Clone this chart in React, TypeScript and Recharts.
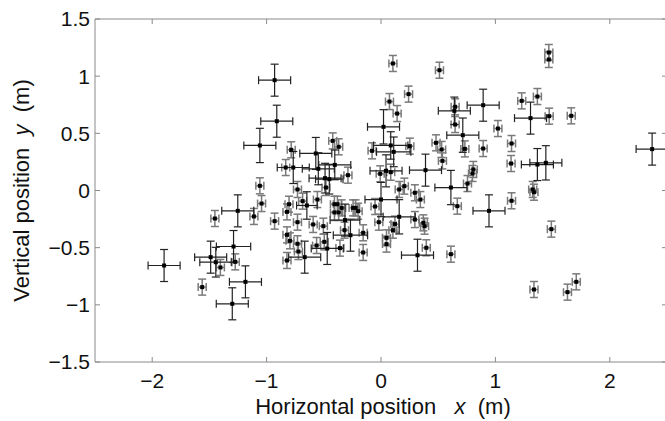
import React from "react";
import { ScatterChart, Scatter, XAxis, YAxis, ErrorBar, Label } from "recharts";

// [x, y, errX, errY] in metres
const preciseFixes: number[][] = [
  [-1.563, -0.845, 0.035, 0.07], [-1.452, -0.245, 0.035, 0.07], [-1.404, -0.673, 0.035, 0.07],
  [-1.274, -0.624, 0.035, 0.07], [-1.111, -0.227, 0.035, 0.07], [-1.059, 0.041, 0.035, 0.07],
  [-1.044, -0.114, 0.035, 0.07], [-0.93, -0.268, 0.035, 0.07], [-0.833, 0.201, 0.035, 0.07],
  [-0.822, -0.388, 0.035, 0.07], [-0.822, -0.187, 0.035, 0.07], [-0.822, -0.612, 0.035, 0.07],
  [-0.804, -0.12, 0.035, 0.07], [-0.796, -0.44, 0.035, 0.07], [-0.785, 0.356, 0.035, 0.07],
  [-0.73, 0.009, 0.035, 0.07], [-0.73, -0.277, 0.035, 0.07], [-0.73, -0.466, 0.035, 0.07],
  [-0.722, -0.534, 0.035, 0.07], [-0.685, -0.093, 0.035, 0.07], [-0.593, -0.297, 0.035, 0.07],
  [-0.556, -0.079, 0.035, 0.07], [-0.563, -0.481, 0.035, 0.07], [-0.504, -0.312, 0.035, 0.07],
  [-0.496, -0.449, 0.035, 0.07], [-0.481, 0.026, 0.035, 0.07], [-0.422, 0.434, 0.035, 0.07],
  [-0.407, -0.12, 0.035, 0.07], [-0.407, -0.192, 0.035, 0.07], [-0.381, -0.12, 0.035, 0.07],
  [-0.37, 0.382, 0.035, 0.07], [-0.37, -0.192, 0.035, 0.07], [-0.359, -0.504, 0.035, 0.07],
  [-0.344, -0.152, 0.035, 0.07], [-0.319, -0.347, 0.035, 0.07], [-0.289, 0.134, 0.035, 0.07],
  [-0.244, -0.152, 0.035, 0.07], [-0.222, -0.152, 0.035, 0.07], [-0.2, -0.181, 0.035, 0.07],
  [-0.156, -0.37, 0.035, 0.07], [-0.156, -0.542, 0.035, 0.07], [-0.078, 0.347, 0.035, 0.07],
  [-0.052, -0.14, 0.035, 0.07], [-0.019, -0.277, 0.035, 0.07], [-0.007, 0.146, 0.035, 0.07],
  [0.048, -0.469, 0.035, 0.07], [0.048, -0.414, 0.035, 0.07], [0.074, 0.778, 0.035, 0.07],
  [0.085, 0.16, 0.035, 0.07], [0.104, 1.111, 0.035, 0.07], [0.104, -0.347, 0.035, 0.07],
  [0.122, -0.294, 0.035, 0.07], [0.141, 0.673, 0.035, 0.07], [0.159, 0.009, 0.035, 0.07],
  [0.204, 0.038, 0.035, 0.07], [0.241, 0.843, 0.035, 0.07], [0.252, 0.388, 0.035, 0.07],
  [0.296, -0.02, 0.035, 0.07], [0.296, -0.254, 0.035, 0.07], [0.344, -0.079, 0.035, 0.07],
  [0.37, -0.283, 0.035, 0.07], [0.381, -0.312, 0.035, 0.07], [0.396, -0.501, 0.035, 0.07],
  [0.481, 0.417, 0.035, 0.07], [0.511, 1.052, 0.035, 0.07], [0.53, 0.359, 0.035, 0.07],
  [0.537, 0.259, 0.035, 0.07], [0.611, -0.557, 0.035, 0.07], [0.648, 0.732, 0.035, 0.07],
  [0.648, 0.577, 0.035, 0.07], [0.667, -0.137, 0.035, 0.07], [0.733, 0.364, 0.035, 0.07],
  [0.756, 0.061, 0.035, 0.07], [0.8, 0.149, 0.035, 0.07], [0.807, 0.184, 0.035, 0.07],
  [0.893, 0.367, 0.035, 0.07], [1.022, 0.542, 0.035, 0.07], [1.141, 0.411, 0.035, 0.07],
  [1.137, 0.236, 0.035, 0.07], [1.141, -0.09, 0.035, 0.07], [1.23, 0.784, 0.035, 0.07],
  [1.326, 0.009, 0.035, 0.07], [1.337, -0.015, 0.035, 0.07], [1.337, -0.866, 0.035, 0.07],
  [1.367, 0.822, 0.035, 0.07], [1.467, 1.207, 0.035, 0.07], [1.467, 1.146, 0.035, 0.07],
  [1.47, 0.65, 0.035, 0.07], [1.489, -0.338, 0.035, 0.07], [1.63, -0.889, 0.035, 0.07],
  [1.663, 0.653, 0.035, 0.07], [1.707, -0.799, 0.035, 0.07],
];

const roughFixes: number[][] = [
  [-1.896, -0.656, 0.14, 0.14], [-1.489, -0.583, 0.14, 0.14], [-1.444, -0.627, 0.14, 0.13],
  [-1.3, -0.991, 0.14, 0.14], [-1.289, -0.49, 0.15, 0.14], [-1.252, -0.178, 0.14, 0.14],
  [-1.185, -0.799, 0.14, 0.14], [-1.059, 0.394, 0.14, 0.15], [-0.93, 0.965, 0.14, 0.14],
  [-0.911, 0.606, 0.14, 0.14], [-0.767, 0.201, 0.14, 0.14], [-0.667, -0.583, 0.14, 0.14],
  [-0.648, -0.131, 0.09, 0.12], [-0.57, 0.324, 0.14, 0.14], [-0.548, 0.19, 0.14, 0.14],
  [-0.489, 0.108, 0.14, 0.13], [-0.47, -0.507, 0.14, 0.14], [-0.452, 0.099, 0.12, 0.13],
  [-0.404, 0.224, 0.14, 0.13], [-0.315, -0.259, 0.13, 0.14], [-0.267, -0.391, 0.15, 0.14],
  [0.0, -0.079, 0.14, 0.15], [0.022, 0.557, 0.14, 0.15], [0.044, 0.172, 0.14, 0.14],
  [0.085, 0.394, 0.15, 0.12], [0.111, 0.338, 0.15, 0.13], [0.159, -0.23, 0.14, 0.15],
  [0.319, -0.566, 0.14, 0.14], [0.389, 0.178, 0.14, 0.14], [0.611, 0.026, 0.14, 0.15],
  [0.641, 0.697, 0.14, 0.12], [0.715, 0.484, 0.14, 0.15], [0.893, 0.746, 0.14, 0.14],
  [0.944, -0.178, 0.14, 0.14], [1.307, 0.633, 0.14, 0.14], [1.367, 0.227, 0.14, 0.14],
  [1.441, 0.242, 0.14, 0.15], [2.37, 0.362, 0.14, 0.14],
];

const xTicks = [-2, -1, 0, 1, 2];
const yTicks = [-1.5, -1, -0.5, 0, 0.5, 1, 1.5];

const toRows = (pts: number[][]) => pts.map(([x, y, ex, ey]) => ({ x, y, ex, ey }));

const FONT = "'Liberation Sans', Arial, sans-serif";
const AXIS = "#8a8a8a";
const fmt = (v: number) => String(v).replace("-", "\u2212");
const NB = "\u00a0";

const Dot = (props: any) => {
  const { cx, cy } = props;
  if (cx == null || cy == null) return null;
  return <rect x={cx - 2} y={cy - 2} width={4} height={4} fill="#000" />;
};

const XLabel = (props: any) => {
  const vb = props.viewBox;
  return (
    <text x={vb.x + vb.width / 2 + 2} y={vb.y + 52} textAnchor="middle" fontSize={22} fontFamily={FONT} fill="#111">
      Horizontal position{NB.repeat(3)}<tspan fontStyle="italic">x</tspan>{NB.repeat(2)}(m)
    </text>
  );
};

const YLabel = (props: any) => {
  const vb = props.viewBox;
  const cx = 29;
  const cy = vb.y + vb.height / 2;
  return (
    <text x={cx} y={cy} transform={`rotate(-90 ${cx} ${cy})`} textAnchor="middle" fontSize={22} fontFamily={FONT} fill="#111">
      Vertical position{NB.repeat(2)}<tspan fontStyle="italic">y</tspan>{NB.repeat(2)}(m)
    </text>
  );
};

const tickStyle = { fill: "#111", fontSize: 21, fontFamily: FONT };

export default function App() {
  return (
    <div style={{ position: "absolute", left: 0, top: 0, width: 665, height: 421, overflow: "hidden", background: "#fff" }}>
      <ScatterChart width={670} height={421} margin={{ top: 0, right: 0, bottom: 0, left: 0 }}>
        <XAxis xAxisId="b" type="number" dataKey="x" domain={[-2.5, 2.5]} ticks={xTicks} allowDataOverflow
          orientation="bottom" height={59} stroke={AXIS} tickSize={-5} tickMargin={16} tick={tickStyle} tickFormatter={fmt}>
          <Label content={<XLabel />} />
        </XAxis>
        <XAxis xAxisId="t" type="number" dataKey="x" domain={[-2.5, 2.5]} ticks={xTicks} allowDataOverflow
          orientation="top" height={19} stroke={AXIS} tickSize={-5} tick={() => <g />} />
        <YAxis yAxisId="l" type="number" dataKey="y" domain={[-1.5, 1.5]} ticks={yTicks} allowDataOverflow
          orientation="left" width={95} stroke={AXIS} tickSize={-5} tickMargin={10} tick={tickStyle} tickFormatter={fmt}>
          <Label content={<YLabel />} />
        </YAxis>
        <YAxis yAxisId="r" type="number" dataKey="y" domain={[-1.5, 1.5]} ticks={yTicks} allowDataOverflow
          orientation="right" width={3} stroke={AXIS} tickSize={-5} tick={() => <g />} />
        <Scatter data={toRows(preciseFixes)} xAxisId="b" yAxisId="l" shape={<Dot />} isAnimationActive={false}>
          <ErrorBar dataKey="ex" direction="x" width={4} stroke="#7a7a7a" strokeWidth={1.5} />
          <ErrorBar dataKey="ey" direction="y" width={4} stroke="#7a7a7a" strokeWidth={1.5} />
        </Scatter>
        <Scatter data={toRows(roughFixes)} xAxisId="b" yAxisId="l" shape={<Dot />} isAnimationActive={false}>
          <ErrorBar dataKey="ex" direction="x" width={4} stroke="#222" strokeWidth={1.2} />
          <ErrorBar dataKey="ey" direction="y" width={4} stroke="#222" strokeWidth={1.2} />
        </Scatter>
      </ScatterChart>
    </div>
  );
}
